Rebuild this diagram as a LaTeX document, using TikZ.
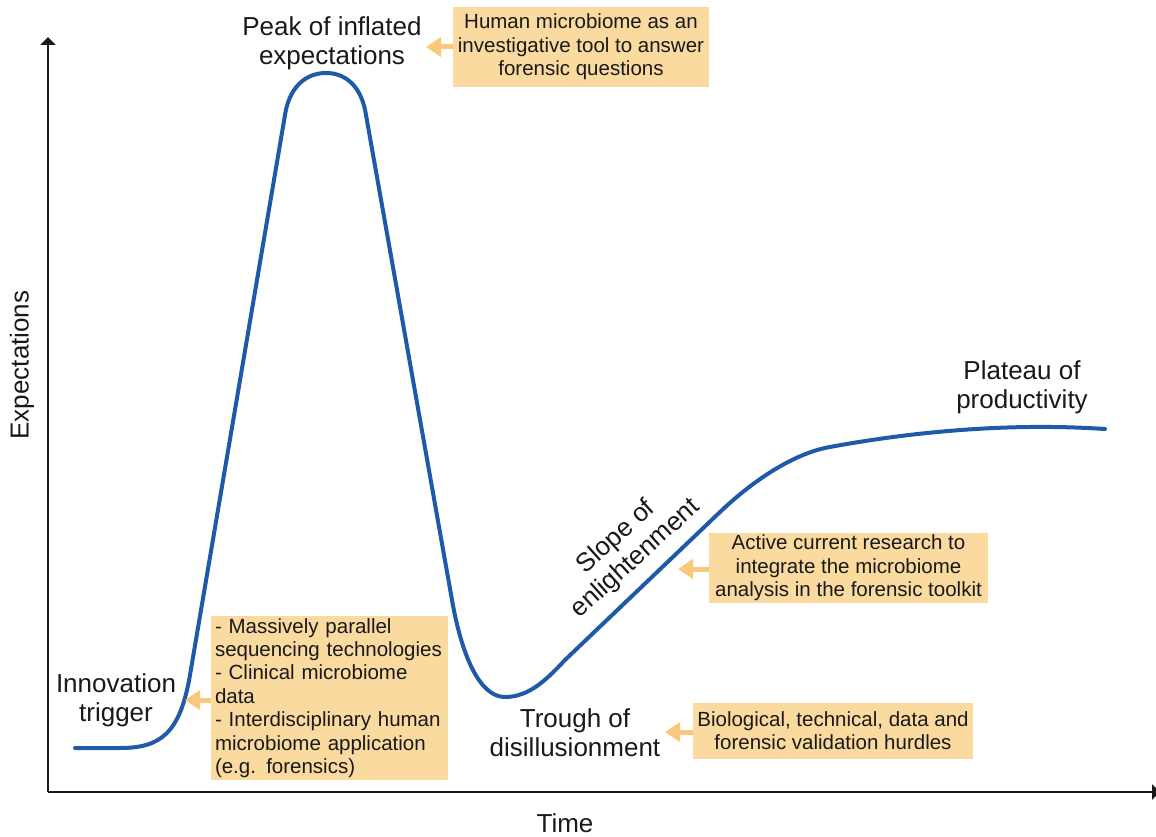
\documentclass[tikz,border=0pt]{standalone}
\usepackage{fontspec}
\setmainfont{Liberation Sans}
\usetikzlibrary{arrows.meta}
\definecolor{boxc}{RGB}{251,218,160}
\definecolor{arrc}{RGB}{251,199,120}
\definecolor{curvec}{RGB}{30,90,168}
\definecolor{txt}{RGB}{25,25,25}
\begin{document}
\begin{tikzpicture}[x=1pt,y=-1pt,
 lab/.style={align=center,font=\fontsize{26}{29}\selectfont,text=txt,inner sep=0},
 note/.style={fill=boxc,align=center,font=\fontsize{20.5}{23.4}\selectfont,text=txt,inner sep=0},
 notearrow/.style={draw=arrc,line width=5,-{Triangle[length=15,width=19,fill=arrc]}},
 axis/.style={draw=txt,line width=2,-{Triangle[length=8,width=15]}},
 hype/.style={draw=curvec,line width=4,line join=round,line cap=round}]
\useasboundingbox (0,0) rectangle (1156,837);
% axes
\coordinate (O) at (48,792);
\coordinate (ytop) at (48,37);
\coordinate (xend) at (1160,792);
\draw[axis] (O) -- (ytop);
\draw[axis] (O) -- (xend);
\node[lab,rotate=90] (ylab) at (22,365) {Expectations};
\node[lab] (xlab) at (565,823) {Time};
% hype curve
\draw[hype] (75,748) -- (120,748)
  .. controls (160,748) and (180,734) .. (190,675)
  -- (285,115)
  .. controls (289,88) and (305,73) .. (326,73)
  .. controls (347,73) and (362,88) .. (366,115)
  -- (452,600)
  .. controls (462,657) and (480,697) .. (505,697)
  .. controls (530,697) and (548,678) .. (565,660)
  -- (720,512)
  .. controls (760,474) and (800,452) .. (830,447)
  .. controls (900,434) and (1000,422) .. (1105,429);
% phase labels
\node[lab] (peak) at (332,43) {Peak of inflated\\expectations};
\node[lab] (innov) at (116,700) {Innovation\\trigger};
\node[lab] (trough) at (575,733) {Trough of\\disillusionment};
\node[lab,rotate=42] (slope) at (626,548) {Slope of\\enlightenment};
\node[lab] (plateau) at (1022,387) {Plateau of\\productivity};
% notes
\node[note,minimum width=256,minimum height=80] (n1) at (581,47) {Human microbiome as an\\investigative tool to answer\\forensic questions};
\node[note,align=left,text width=229,inner xsep=4,minimum height=164] (n2) at (329.5,698) {- Massively parallel\\sequencing technologies\\- Clinical microbiome\\data\\- Interdisciplinary human\\microbiome application\\(e.g. forensics)};
\node[note,minimum width=280,minimum height=56] (n3) at (833,730.5) {Biological, technical, data and\\forensic validation hurdles};
\node[note,minimum width=279,minimum height=70] (n4) at (848.5,568) {Active current research to\\integrate the microbiome\\analysis in the forensic toolkit};
\coordinate (t1) at (426,47);
\coordinate (t2) at (185,700);
\coordinate (t3) at (665,732);
\coordinate (t4) at (678,569);
\draw[notearrow] (n1.west |- t1) -- (t1);
\draw[notearrow] (n2.west |- t2) -- (t2);
\draw[notearrow] (n3.west |- t3) -- (t3);
\draw[notearrow] (n4.west |- t4) -- (t4);
\end{tikzpicture}
\end{document}
